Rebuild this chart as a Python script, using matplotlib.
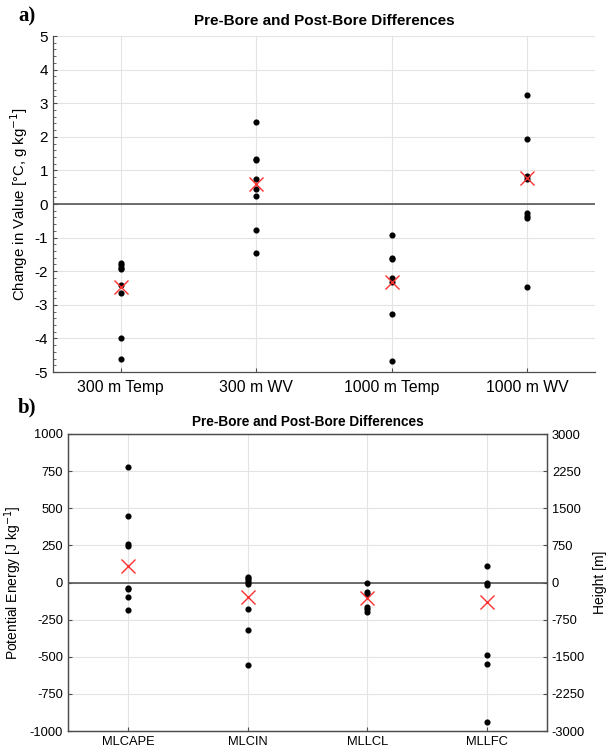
import matplotlib
matplotlib.use("Agg")
import matplotlib.pyplot as plt
from matplotlib.ticker import MultipleLocator

plt.rcParams['font.family'] = ['Liberation Sans', 'DejaVu Sans']

# ---------- Panel a data ----------
cats_a = ["300 m Temp", "300 m WV", "1000 m Temp", "1000 m WV"]
temp300 = [-1.75, -1.82, -1.89, -1.94, -2.40, -2.64, -3.98, -4.61]
wv300 = [2.45, 1.35, 1.31, 0.74, 0.46, 0.25, -0.77, -1.47]
temp1000 = [-0.91, -1.60, -1.65, -2.21, -2.33, -3.28, -4.67]
wv1000 = [3.23, 1.93, 0.84, 0.74, -0.28, -0.35, -0.43, -2.48]
means_a = [-2.46, 0.60, -2.33, 0.78]

# ---------- Panel b data ----------
cats_b = ["MLCAPE", "MLCIN", "MLLCL", "MLLFC"]
mlcape = [779, 447, 256, 249, -34, -47, -101, -186]      # J kg-1
mlcin = [40, 28, 14, 2, -10, -180, -323, -557]           # J kg-1
mllcl = [0, -189, -236, -492, -539, -593]                # m
mllfc = [324, -20, -54, -1457, -1652, -2818]             # m
means_energy = [110, -101]                               # J kg-1 (MLCAPE, MLCIN)
means_height = [-310, -391]                              # m (MLLCL, MLLFC)

yticks_a = list(range(-5, 6))
yticks_b = [-1000, -750, -500, -250, 0, 250, 500, 750, 1000]
yticks_b_right = [-3000, -2250, -1500, -750, 0, 750, 1500, 2250, 3000]

W, H = 611, 750
fig = plt.figure(figsize=(W / 100, H / 100), dpi=100)

spine_col = '#4d4d4d'
grid_col = '#e3e3e3'
dot_kw = dict(marker='o', color='black', markersize=3.4, linestyle='none', zorder=4)
x_kw = dict(marker='x', color='#ff3030', markersize=10, markeredgewidth=1.0,
            linestyle='none', zorder=5)


def style_axes(ax):
    ax.tick_params(direction='in', colors=spine_col, labelcolor='black', length=3, width=0.8)
    ax.grid(True, color=grid_col, linewidth=0.8, zorder=0)
    ax.set_axisbelow(True)
    for s in ax.spines.values():
        s.set_color(spine_col)
        s.set_linewidth(0.9)


# ---------- Panel a ----------
axa = fig.add_axes([53 / W, 1 - 372 / H, (595 - 53) / W, (372 - 36) / H])
style_axes(axa)
axa.spines['top'].set_visible(False)
axa.spines['right'].set_visible(False)
axa.axhline(0, color='#555555', linewidth=1.2, zorder=2)
for i, vals in enumerate([temp300, wv300, temp1000, wv1000]):
    axa.plot([i + 1] * len(vals), vals, **dot_kw)
axa.plot(range(1, 5), means_a, **x_kw)
axa.set_xlim(0.5, 4.5)
axa.set_ylim(-5, 5)
axa.set_xticks(range(1, 5))
axa.set_xticklabels(cats_a, fontsize=11.3)
axa.set_yticks(yticks_a)
axa.set_yticklabels([str(v) for v in yticks_a], fontsize=11)
axa.yaxis.set_minor_locator(MultipleLocator(0.2))
axa.tick_params(which='minor', direction='in', length=2, color=spine_col)
axa.tick_params(axis='x', pad=6)
axa.set_ylabel("Change in Value [°C, g kg$^{-1}$]", fontsize=10.8, labelpad=3)
axa.set_title("Pre-Bore and Post-Bore Differences", fontsize=11, fontweight='bold', pad=8)
fig.text(18 / W, 1 - 16 / H, "a)", fontsize=15, fontweight='bold',
         family=['Liberation Serif', 'DejaVu Serif'], va='center', ha='left')

# ---------- Panel b ----------
axb = fig.add_axes([68 / W, 1 - 731 / H, (547 - 68) / W, (731 - 434) / H])
style_axes(axb)
axb.axhline(0, color='#555555', linewidth=1.2, zorder=2)
axb.plot([1] * len(mlcape), mlcape, **dot_kw)
axb.plot([2] * len(mlcin), mlcin, **dot_kw)
axb.plot([1, 2], means_energy, **x_kw)
axb.set_xlim(0.5, 4.5)
axb.set_ylim(-1000, 1000)
axb.set_xticks(range(1, 5))
axb.set_xticklabels(cats_b, fontsize=9.3)
axb.set_yticks(yticks_b)
axb.set_yticklabels([str(v) for v in yticks_b], fontsize=9.3)
axb.set_ylabel("Potential Energy [J kg$^{-1}$]", fontsize=10, labelpad=4)
axb.set_title("Pre-Bore and Post-Bore Differences", fontsize=9.8, fontweight='bold', pad=6)

axr = axb.twinx()
axr.set_ylim(-3000, 3000)
axr.set_yticks(yticks_b_right)
axr.set_yticklabels([str(v) for v in yticks_b_right], fontsize=9.3)
axr.tick_params(direction='in', colors=spine_col, labelcolor='black', length=3, width=0.8)
for s in axr.spines.values():
    s.set_color(spine_col)
    s.set_linewidth(0.9)
axr.plot([3] * len(mllcl), mllcl, **dot_kw)
axr.plot([4] * len(mllfc), mllfc, **dot_kw)
axr.plot([3, 4], means_height, **x_kw)
axr.set_ylabel("Height [m]", fontsize=10, labelpad=6)

fig.text(18 / W, 1 - 407 / H, "b)", fontsize=15, fontweight='bold',
         family=['Liberation Serif', 'DejaVu Serif'], va='center', ha='left')

fig.savefig("out.png", dpi=100)
